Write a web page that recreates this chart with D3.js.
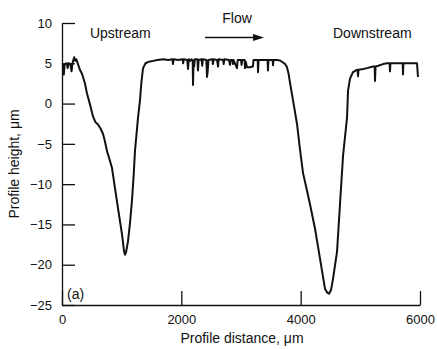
<!DOCTYPE html>
<html>
<head>
<meta charset="utf-8">
<script src="https://cdn.jsdelivr.net/npm/d3@7"></script>
<style>
  html, body { margin: 0; padding: 0; background: #fff; }
  svg { display: block; font-family: "Liberation Sans", Arial, Helvetica, sans-serif; }
</style>
</head>
<body>
<svg id="chart" width="437" height="349"></svg>
<script>
// Profile distance (µm)
const distance = [
  0, 15, 30, 45, 80, 95, 110, 140, 160, 175, 190, 205, 220, 240, 268, 300, 335, 385, 419, 469,
  520, 560, 603, 645, 687, 720, 754, 800, 838, 888, 939, 1006, 1040, 1056, 1075, 1106, 1140, 1173, 1200, 1223,
  1274, 1307, 1330, 1358, 1400, 1460, 1525, 1600, 1700, 1780, 1850, 1860, 1870, 1950, 2020, 2030, 2040, 2100,
  2112, 2125, 2150, 2170, 2190, 2196, 2205, 2215, 2225, 2270, 2279, 2290, 2340, 2350, 2360, 2420, 2430, 2440,
  2455, 2520, 2530, 2540, 2600, 2615, 2625, 2700, 2710, 2720, 2800, 2816, 2830, 2860, 2866, 2875, 2933, 2945,
  3000, 3010, 3020, 3060, 3067, 3080, 3100, 3150, 3200, 3210, 3280, 3285, 3295, 3445, 3452, 3460, 3530, 3536,
  3545, 3600, 3654, 3704, 3740, 3771, 3800, 3821, 3872, 3938, 3989, 4039, 4100, 4156, 4240, 4324, 4408, 4450,
  4475, 4510, 4542, 4609, 4659, 4710, 4777, 4794, 4827, 4877, 4920, 4955, 4961, 4970, 5050, 5112, 5212, 5240,
  5246, 5255, 5300, 5380, 5450, 5490, 5497, 5505, 5547, 5650, 5710, 5715, 5722, 5782, 5850, 5950, 5966
];
// Profile height (µm)
const height = [
  5.0, 4.9, 3.6, 4.9, 5.0, 4.4, 5.0, 4.9, 4.0, 5.0, 5.4, 5.75, 5.3, 5.5, 4.9, 4.2, 3.7, 2.5, 1.25, -0.1,
  -1.6, -2.3, -2.6, -3.1, -3.75, -4.7, -5.9, -7.0, -8.0, -10.5, -13.0, -16.25, -18.3, -18.75, -18.4, -17.1, -14.8, -12.0, -9.0, -5.9,
  -1.75, 0.4, 2.6, 4.4, 5.0, 5.2, 5.3, 5.4, 5.5, 5.4, 5.5, 4.9, 5.5, 5.4, 5.5, 5.0, 5.5, 5.4,
  4.3, 5.5, 5.3, 5.5, 5.4, 2.3, 5.2, 4.6, 5.5, 5.5, 4.1, 5.4, 5.5, 4.7, 5.5, 5.4, 3.3, 3.9,
  5.4, 5.5, 4.9, 5.5, 5.4, 4.6, 5.5, 5.4, 4.9, 5.5, 5.4, 4.8, 5.4, 5.4, 4.9, 5.4, 4.4, 5.4,
  5.4, 4.8, 5.4, 5.4, 4.4, 5.2, 4.5, 4.5, 4.6, 5.4, 5.4, 3.9, 5.4, 5.4, 4.1, 5.4, 5.4, 4.75,
  5.4, 5.4, 5.35, 5.1, 4.9, 4.5, 3.6, 2.6, 0.4, -2.5, -5.7, -8.6, -10.6, -12.5, -15.5, -19.25, -23.0, -23.5,
  -23.6, -23.1, -21.75, -18.4, -12.5, -6.5, -1.75, 1.6, 3.1, 3.9, 4.1, 4.2, 3.4, 4.2, 4.3, 4.4, 4.6, 4.6,
  2.8, 4.6, 4.7, 4.9, 5.0, 5.0, 4.0, 5.0, 5.0, 5.0, 5.0, 3.6, 5.0, 5.0, 5.0, 5.0, 3.3
];
const xTicks = [0, 2000, 4000, 6000];
const yTicks = [10, 5, 0, -5, -10, -15, -20, -25];
const xTitle = "Profile distance, \u03bcm";
const yTitle = "Profile height, \u03bcm";
const annotations = [
  { text: "Upstream", x: 469, y: 8.2, anchor: "start" },
  { text: "Flow", x: 2933, y: 10.0, anchor: "middle" },
  { text: "Downstream", x: 4542, y: 8.1, anchor: "start" },
  { text: "(a)", x: 84, y: -24.3, anchor: "start" }
];
const arrowFrom = [2397, 8.2];
const arrowTo = [3386, 8.2];

const svg = d3.select("#chart");
const W = 437, H = 349;
const margin = { left: 62, right: 17, top: 23, bottom: 44 };

const x = d3.scaleLinear().domain([0, 6000]).range([margin.left, W - margin.right]);
const y = d3.scaleLinear().domain([-25, 10]).range([H - margin.bottom, margin.top]);

// Axes
const xAxis = d3.axisBottom(x).tickValues(xTicks).tickSizeInner(-14).tickSizeOuter(0).tickPadding(10).tickFormat(d3.format("d"));
const yAxis = d3.axisLeft(y).tickValues(yTicks).tickSizeInner(-13).tickSizeOuter(0).tickPadding(10)
  .tickFormat(d => d < 0 ? "\u2212" + Math.abs(d) : String(d));

const gx = svg.append("g").attr("transform", `translate(0,${y(-25)})`).call(xAxis);
const gy = svg.append("g").attr("transform", `translate(${x(0)},0)`).call(yAxis);
[gx, gy].forEach(g => {
  g.selectAll("path.domain").attr("stroke", "#111").attr("stroke-width", 1.3);
  g.selectAll(".tick line").attr("stroke", "#111").attr("stroke-width", 1.3);
  g.selectAll(".tick text").attr("font-size", 13).attr("fill", "#111")
    .attr("font-family", "'Liberation Sans', Arial, sans-serif");
});

// Axis titles
svg.append("text").attr("x", (x(0) + x(6000)) / 2 + 1).attr("y", 343)
  .attr("text-anchor", "middle").attr("font-size", 14).attr("fill", "#111").text(xTitle);
svg.append("text").attr("transform", `translate(19,${(y(10) + y(-25)) / 2}) rotate(-90)`)
  .attr("text-anchor", "middle").attr("font-size", 14).attr("fill", "#111").text(yTitle);

// Profile line
const pts = distance.map((d, i) => [d, height[i]]);
const line = d3.line().x(d => x(d[0])).y(d => y(d[1]));
svg.append("path").datum(pts).attr("d", line)
  .attr("fill", "none").attr("stroke", "#111").attr("stroke-width", 2).attr("stroke-linejoin", "round");

// Annotations
annotations.forEach(a => {
  svg.append("text").attr("x", x(a.x)).attr("y", y(a.y)).attr("text-anchor", a.anchor)
    .attr("font-size", 14).attr("fill", "#111").text(a.text);
});

// Flow arrow
const ax0 = x(arrowFrom[0]), ax1 = x(arrowTo[0]), ay = y(arrowFrom[1]);
svg.append("line").attr("x1", ax0).attr("x2", ax1 - 8).attr("y1", ay).attr("y2", ay)
  .attr("stroke", "#111").attr("stroke-width", 1.3);
svg.append("path")
  .attr("d", `M${ax1},${ay} L${ax1 - 11},${ay - 3.5} L${ax1 - 11},${ay + 3.5} Z`)
  .attr("fill", "#111");
</script>
</body>
</html>
